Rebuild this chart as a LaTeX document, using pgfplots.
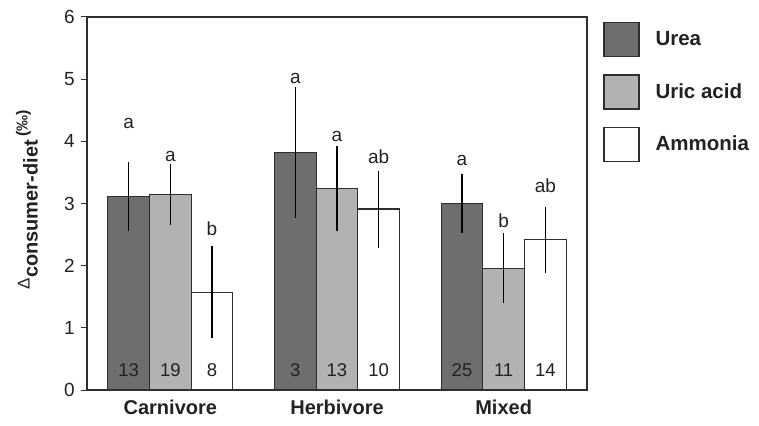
\documentclass[border=0pt]{standalone}
\usepackage{pgfplots}
\pgfplotsset{compat=1.18}
\usepackage{pgfplotstable}
\usepackage{fontspec}
\setmainfont{Liberation Sans}

\definecolor{ureacol}{HTML}{6E6E6E}
\definecolor{uriccol}{HTML}{B2B2B2}
\definecolor{edgecol}{HTML}{2E2E2E}
\definecolor{txtcol}{HTML}{222222}

% bar centres: groups at 0 (Carnivore), 1 (Herbivore), 2 (Mixed),
% each bar a quarter unit wide
\pgfplotstableread{
x     y    e
-0.25 3.11 0.55
0.75  3.82 1.05
1.75  3.00 0.47
}\urea
\pgfplotstableread{
x     y    e
0.00  3.15 0.49
1.00  3.24 0.69
2.00  1.96 0.56
}\uric
\pgfplotstableread{
x     y    e
0.25  1.57 0.74
1.25  2.91 0.62
2.25  2.42 0.53
}\ammonia
% significance letters above each bar
\pgfplotstableread{
x     y    l
-0.25 4.29 a
0.00  3.75 a
0.25  2.60 b
0.75  5.01 a
1.00  4.07 a
1.25  3.75 ab
1.75  3.70 a
2.00  2.73 b
2.25  3.28 ab
}\letters
% sample sizes at the foot of each bar
\pgfplotstableread{
x     y    l
-0.25 0.32 13
0.00  0.32 19
0.25  0.32 8
0.75  0.32 3
1.00  0.32 13
1.25  0.32 10
1.75  0.32 25
2.00  0.32 11
2.25  0.32 14
}\counts

\pgfplotsset{
  sq legend/.style={legend image code/.code={%
    \draw[##1,draw=edgecol,line width=1.3pt] (0pt,-17pt) rectangle (35pt,17pt);}},
  barstyle/.style={ybar, bar width=0.25, bar shift=0pt, draw=edgecol, line width=1.2pt,
    error bars/y dir=both, error bars/y explicit, error bars/error mark=none,
    error bars/error bar style={line width=1.5pt, black}},
}

\begin{document}
\begin{tikzpicture}
\fontsize{18}{21}\selectfont
\path[use as bounding box] (-87pt,-35pt) rectangle (672pt,390pt);
\begin{axis}[
  at={(0pt,0pt)}, anchor=south west,
  scale only axis, width=500pt, height=373pt,
  xmin=-0.5, xmax=2.5, ymin=0, ymax=6,
  axis line style={edgecol, line width=1.3pt},
  xtick={0,1,2}, xticklabels={Carnivore,Herbivore,Mixed},
  xtick pos=lower, ytick pos=left,
  x tick style={draw=none},
  extra x ticks={-0.5,0.5,1.5,2.5}, extra x tick labels={},
  extra x tick style={tick style={draw=edgecol, line width=1pt}, major tick length=9pt, tick align=outside},
  x tick label style={font=\fontsize{20}{22}\selectfont\bfseries, text=txtcol, yshift=2pt},
  ytick={0,1,...,6},
  y tick style={draw=edgecol, line width=1pt},
  major tick length=6pt, tick align=outside,
  y tick label style={font=\fontsize{19}{21}\selectfont, text=txtcol},
  /pgf/number format/assume math mode=true,
  ylabel={\raisebox{8pt}{\fontsize{17}{17}\selectfont Δ}\fontsize{20}{21}\selectfont\bfseries consumer-diet\,\raisebox{10pt}{\fontsize{16}{16}\selectfont\bfseries(‰)}},
  ylabel style={at={(axis description cs:-0.12,0.51)}, anchor=center, text=txtcol},
  legend style={at={(axis description cs:1.032,0.987)}, anchor=north west,
    draw=none, fill=none, inner sep=0pt, row sep=17pt,
    font=\fontsize{20.5}{22}\selectfont\bfseries, text=txtcol,
    nodes={inner sep=0pt},
    /tikz/every odd column/.append style={column sep=16pt}},
  legend cell align=left,
]
\addplot[barstyle, fill=ureacol, sq legend]
  table[x=x, y=y, y error=e] {\urea};
\addlegendentry{Urea}
\addplot[barstyle, fill=uriccol, sq legend]
  table[x=x, y=y, y error=e] {\uric};
\addlegendentry{Uric acid}
\addplot[barstyle, fill=white, sq legend]
  table[x=x, y=y, y error=e] {\ammonia};
\addlegendentry{Ammonia}

\addplot[draw=none, mark=none, nodes near coords, point meta=explicit symbolic,
  every node near coord/.append style={anchor=center, text=txtcol, font=\fontsize{19}{21}\selectfont}]
  table[x=x, y=y, meta=l] {\letters};
\addplot[draw=none, mark=none, nodes near coords, point meta=explicit symbolic,
  every node near coord/.append style={anchor=center, text=txtcol, font=\fontsize{18.5}{21}\selectfont}]
  table[x=x, y=y, meta=l] {\counts};
\end{axis}
\end{tikzpicture}
\end{document}
